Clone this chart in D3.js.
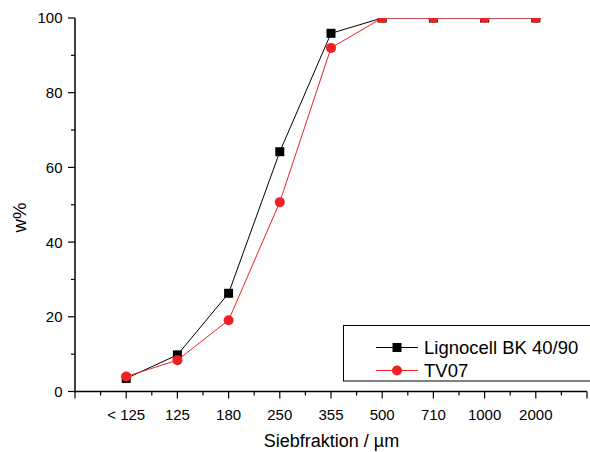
<!DOCTYPE html>
<html><head><meta charset="utf-8">
<script src="https://cdn.jsdelivr.net/npm/d3@7"></script>
<style>body{margin:0;background:#fff}svg{display:block;font-family:"Liberation Sans",Arial,sans-serif}</style>
</head><body><svg id="c" width="590" height="452"></svg>
<script>
const categories = ["< 125","125","180","250","355","500","710","1000","2000"];
const lignocell = [3.5, 9.8, 26.3, 64.2, 95.9, 100, 100, 100, 100];
const tv07 = [4.0, 8.4, 19.1, 50.7, 92.0, 100, 100, 100, 100];
const yTicks = [0,20,40,60,80,100];
const seriesNames = ["Lignocell BK 40/90","TV07"];

const svg = d3.select("#c");
const x = d3.scaleLinear().domain([-1, 9]).range([75, 587]);
const y = d3.scaleLinear().domain([0, 100]).range([391.5, 18]);

// clip
svg.append("defs").append("clipPath").attr("id","clip")
  .append("rect").attr("x",75).attr("y",18).attr("width",512).attr("height",373.5);

// X axis
const xg = svg.append("g").attr("transform","translate(0,391.5)");
const majorX = d3.range(-1, 10);
const minorX = d3.range(-0.5, 9, 1);
xg.append("line").attr("x1",x(-1)).attr("x2",x(9)).attr("stroke","#000").attr("stroke-width",1.5);
xg.selectAll(".mj").data(majorX).join("line").attr("x1",d=>x(d)).attr("x2",d=>x(d)).attr("y1",0).attr("y2",7).attr("stroke","#000").attr("stroke-width",1.2);
xg.selectAll(".mn").data(minorX).join("line").attr("x1",d=>x(d)).attr("x2",d=>x(d)).attr("y1",0).attr("y2",4).attr("stroke","#000").attr("stroke-width",1.2);
xg.selectAll("text").data(categories).join("text").attr("x",(d,i)=>x(i)).attr("y",28.5)
  .attr("text-anchor","middle").attr("font-size",15).text(d=>d);

// Y axis
const yg = svg.append("g").attr("transform","translate(75,0)");
yg.append("line").attr("y1",y(0)+0.75).attr("y2",y(100)).attr("stroke","#000").attr("stroke-width",1.5);
yg.selectAll(".mj").data(yTicks).join("line").attr("x1",-7).attr("x2",0).attr("y1",d=>y(d)).attr("y2",d=>y(d)).attr("stroke","#000").attr("stroke-width",1.2);
yg.selectAll(".mn").data(d3.range(10,100,20)).join("line").attr("x1",-4).attr("x2",0).attr("y1",d=>y(d)).attr("y2",d=>y(d)).attr("stroke","#000").attr("stroke-width",1.2);
yg.selectAll("text").data(yTicks).join("text").attr("x",-12.5).attr("y",d=>y(d)).attr("dy","0.36em")
  .attr("text-anchor","end").attr("font-size",15).text(d=>d);

// Axis titles
svg.append("text").attr("x",331.5).attr("y",446.5).attr("text-anchor","middle").attr("font-size",18).text("Siebfraktion / µm");
svg.append("text").attr("transform","translate(26,217.5) rotate(-90)").attr("text-anchor","middle").attr("font-size",18.5).text("w%");

// Series
const plot = svg.append("g").attr("clip-path","url(#clip)");
const line = d3.line().x((d,i)=>x(i)).y(d=>y(d));
plot.append("path").datum(lignocell).attr("d",line).attr("fill","none").attr("stroke","#000").attr("stroke-width",1);
plot.selectAll(".sq").data(lignocell).join("rect").attr("x",(d,i)=>x(i)-4.5).attr("y",d=>y(d)-4.5).attr("width",9).attr("height",9).attr("fill","#000");
plot.append("path").datum(tv07).attr("d",line).attr("fill","none").attr("stroke","#ee2024").attr("stroke-width",1);
plot.selectAll(".ci").data(tv07).join("circle").attr("cx",(d,i)=>x(i)).attr("cy",d=>y(d)).attr("r",5).attr("fill","#ee2024");

// Legend
const lg = svg.append("g");
lg.append("rect").attr("x",343.5).attr("y",325.5).attr("width",250).attr("height",55.5).attr("fill","#fff").attr("stroke","#000").attr("stroke-width",1);
const rows = [{name:seriesNames[0], color:"#000", sym:"sq", yy:347.5},{name:seriesNames[1], color:"#ee2024", sym:"ci", yy:370.5}];
rows.forEach(r=>{
  lg.append("line").attr("x1",376).attr("x2",418).attr("y1",r.yy).attr("y2",r.yy).attr("stroke",r.color).attr("stroke-width",1);
  if(r.sym==="sq") lg.append("rect").attr("x",397-4.5).attr("y",r.yy-4.5).attr("width",9).attr("height",9).attr("fill",r.color);
  else lg.append("circle").attr("cx",397).attr("cy",r.yy).attr("r",5).attr("fill",r.color);
  lg.append("text").attr("x",424).attr("y",r.yy).attr("dy","0.36em").attr("font-size",18.5).text(r.name);
});
</script></body></html>
